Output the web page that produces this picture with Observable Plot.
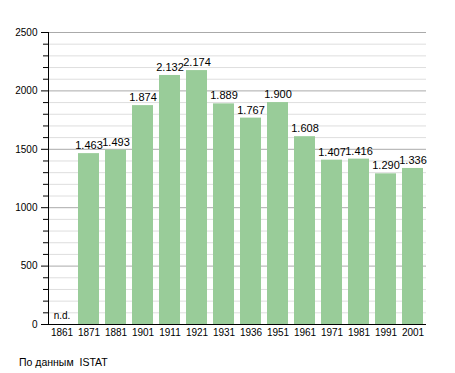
<!DOCTYPE html>
<html>
<head>
<meta charset="utf-8">
<script src="https://cdn.jsdelivr.net/npm/d3@7"></script>
<script src="https://cdn.jsdelivr.net/npm/@observablehq/plot@0.6"></script>
<style>
  body { margin: 0; background: #fff; font-family: "Liberation Sans", Arial, sans-serif; }
  #wrap { position: relative; width: 455px; height: 373px; }
  #caption { position: absolute; left: 19px; top: 356px; font-size: 10.5px; white-space: pre; color: #000; }
</style>
</head>
<body>
<div id="wrap"><div id="chart"></div><div id="caption">По данным  ISTAT</div></div>
<script>
const years = ["1861","1871","1881","1901","1911","1921","1931","1936","1951","1961","1971","1981","1991","2001"];
const population = [null,1463,1493,1874,2132,2174,1889,1767,1900,1608,1407,1416,1290,1336];
const majorTicks = [0,500,1000,1500,2000,2500];
const minorTicks = d3.range(0, 2501, 100).filter(v => v % 500 !== 0);

const data = years.map((y, i) => ({year: y, value: population[i]}));
const fmt = v => { const s = String(v); return s.length > 3 ? s.slice(0, -3) + "." + s.slice(-3) : s; };

const chart = Plot.plot({
  width: 455,
  height: 345,
  marginLeft: 48,
  marginRight: 29,
  marginTop: 32,
  marginBottom: 21,
  style: {fontFamily: "Liberation Sans, Arial, sans-serif", fontSize: "10px", color: "#000", background: "#fff"},
  x: {domain: years, paddingInner: 0.22, paddingOuter: 0.1, label: null},
  y: {domain: [0, 2500], label: null},
  marks: [
    Plot.ruleY(minorTicks, {stroke: "#dedede", strokeWidth: 1}),
    Plot.ruleY(majorTicks.filter(v => v > 0), {stroke: "#aaaaaa", strokeWidth: 1}),
    Plot.barY(data.filter(d => d.value != null), {x: "year", y: "value", fill: "#99cc99"}),
    Plot.text(data.filter(d => d.value != null), {x: "year", y: "value", text: d => fmt(d.value), dy: -8, fontSize: 11, fill: "#000"}),
    Plot.text(data.filter(d => d.value == null), {x: "year", y: () => 0, text: () => "n.d.", dy: -9, fontSize: 10, fill: "#000"}),
    Plot.axisY(minorTicks, {tickSize: 5, tickFormat: () => "", stroke: "#000"}),
    Plot.axisY(majorTicks, {tickSize: 7, tickPadding: 4, tickFormat: d => String(d), fontSize: 10, stroke: "#000"}),
    Plot.axisX({tickSize: 0, tickPadding: 4, fontSize: 10}),
    Plot.frame({anchor: "left", stroke: "#000"}),
    Plot.ruleY([0], {stroke: "#000", strokeWidth: 1.2})
  ]
});
document.getElementById("chart").appendChild(chart);
</script>
</body>
</html>
